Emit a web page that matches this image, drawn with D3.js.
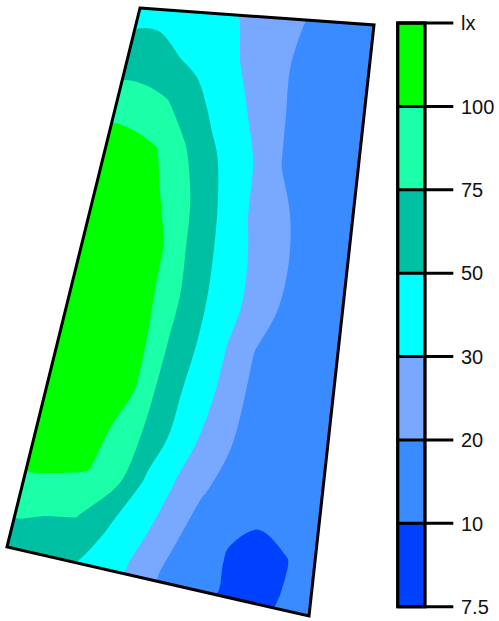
<!DOCTYPE html>
<html>
<head>
<meta charset="utf-8">
<script src="https://cdn.jsdelivr.net/npm/d3@7"></script>
<style>
body{margin:0;background:#fff;}
svg{display:block;font-family:"Liberation Sans",Arial,sans-serif;}
</style>
</head>
<body>
<div id="chart"></div>
<script>
// lower limit of each illuminance band (lx) and its colour
var levels      = [7.5, 10, 20, 30, 50, 75, 100];
var levelColors = ["#0040ff","#3a8bff","#78a8ff","#00ffff","#00c0a4","#1affa8","#00ff00"];
var legendLabels = ["7.5","10","20","30","50","75","100","lx"];

// illuminance grid: 11 points from left wall to right wall, 13 rows from top wall to bottom wall
var row00 = [40, 42, 37, 35, 30.6, 27.5, 23.6, 20.2, 18, 16.5, 15.5];
var row01 = [60, 59, 51, 43.3, 34.4, 27.6, 22.8, 19, 17.5, 16, 15];
var row02 = [84, 83, 77, 60.3, 43.8, 32.1, 24.6, 19.2, 17.5, 16, 15];
var row03 = [112, 108, 100.5, 79.7, 56.7, 40.3, 27.9, 19.8, 18, 16.5, 15];
var row04 = [120, 118, 108, 92.7, 67, 44.5, 29.5, 22, 18.5, 17, 15.5];
var row05 = [122, 120, 112, 100.5, 71, 48.2, 31.9, 23.6, 19, 17, 15.5];
var row06 = [122, 120, 112, 101, 74.5, 49.5, 33, 22.4, 18.5, 16.5, 15];
var row07 = [120, 119, 112, 103, 70.7, 47.3, 29.4, 19.8, 18, 16.5, 15];
var row08 = [118, 117, 112, 102.5, 65.4, 42.5, 27.1, 19, 18, 16.5, 15];
var row09 = [115, 115, 108, 91.6, 62.5, 36.3, 23.1, 18.5, 17, 16, 14.5];
var row10 = [108, 106, 101, 85, 47, 28.7, 20.2, 17, 12, 13.5, 14];
var row11 = [80, 78, 76, 53, 34.8, 23.2, 16, 10.2, 8, 9.6, 13];
var row12 = [65, 60, 53, 40.4, 27.6, 19.2, 14, 9.6, 8.5, 10.2, 13];
var rows = [row00,row01,row02,row03,row04,row05,row06,row07,row08,row09,row10,row11,row12];


var W = 499, H = 621;

// room corners on screen
var TL = [140,8], TR = [374,25], BR = [309,616], BL = [7,547];

var nx = row00.length, ny = rows.length;
var values = [].concat.apply([], rows);

var svg = d3.select("#chart").append("svg")
  .attr("width",W)
  .attr("height",H);

//......................... grid -> room mapping .............................
var uScale = d3.scaleLinear().domain([0.5, nx-0.5]).range([0,1]).clamp(true);
var vScale = d3.scaleLinear().domain([0.5, ny-0.5]).range([0,1]).clamp(true);

function roomPoint(p){
  var u = uScale(p[0]), v = vScale(p[1]);
  var x = (1-u)*(1-v)*TL[0] + u*(1-v)*TR[0] + u*v*BR[0] + (1-u)*v*BL[0];
  var y = (1-u)*(1-v)*TL[1] + u*(1-v)*TR[1] + u*v*BR[1] + (1-u)*v*BL[1];
  return [x,y];
}
//-----------------------------------------------------------------------------

var color = d3.scaleThreshold()
  .domain(levels.slice(1))
  .range(levelColors);

var contours = d3.contours()
  .size([nx,ny])
  .thresholds(levels)(values);

var straight = d3.geoPath();
var smooth   = d3.line().curve(d3.curveCatmullRomClosed.alpha(0.5));

function bandPath(c){
  if (c.value == levels[0]){
    return straight({
      type: "MultiPolygon",
      coordinates: c.coordinates.map(function(poly){
        return poly.map(function(ring){ return ring.map(roomPoint); });
      })
    });
  }
  var d = "";
  c.coordinates.forEach(function(poly){
    poly.forEach(function(ring){
      var pts = ring.slice(0, ring.length-1).map(roomPoint);
      d += smooth(pts);
    });
  });
  return d;
}

var roomOutline = "M"+[TL,TR,BR,BL].join("L")+"Z";

svg.append("clipPath")
  .attr("id","room-clip")
  .append("path")
  .attr("d",roomOutline);

svg.append("g")
  .attr("class","bands")
  .attr("clip-path","url(#room-clip)")
  .selectAll("path")
  .data(contours)
  .enter()
  .append("path")
  .attr("d",bandPath)
  .attr("fill-rule","evenodd")
  .attr("fill",function(c){ return color(c.value); });

svg.append("path")
  .attr("class","room")
  .attr("d",roomOutline)
  .attr("fill","none")
  .attr("stroke","#000")
  .attr("stroke-width",3)
  .attr("stroke-linejoin","miter");

//......................... legend ............................................
var legendY = d3.scaleLinear()
  .domain([0, levels.length])
  .range([606.7, 23]);

var legend = svg.append("g").attr("class","legend");

legend.selectAll("rect.bin")
  .data(levelColors)
  .enter()
  .append("rect")
  .attr("class","bin")
  .attr("x",397.7)
  .attr("width",27.3)
  .attr("y",function(d,i){ return legendY(i+1); })
  .attr("height",function(d,i){ return legendY(i) - legendY(i+1); })
  .attr("fill",function(d){ return d; });

legend.selectAll("line.tick")
  .data(legendLabels)
  .enter()
  .append("line")
  .attr("class","tick")
  .attr("x1",397.7)
  .attr("x2",453.3)
  .attr("y1",function(d,i){ return legendY(i); })
  .attr("y2",function(d,i){ return legendY(i); })
  .attr("stroke","#000")
  .attr("stroke-width",3);

legend.append("rect")
  .attr("x",397.7)
  .attr("y",legendY(levels.length))
  .attr("width",27.3)
  .attr("height",legendY(0) - legendY(levels.length))
  .attr("fill","none")
  .attr("stroke","#000")
  .attr("stroke-width",3.3);

legend.selectAll("text")
  .data(legendLabels)
  .enter()
  .append("text")
  .attr("x",461)
  .attr("y",function(d,i){ return legendY(i); })
  .attr("dy","0.36em")
  .attr("font-size",20)
  .attr("fill","#111")
  .text(function(d){ return d; });
</script>
</body>
</html>
